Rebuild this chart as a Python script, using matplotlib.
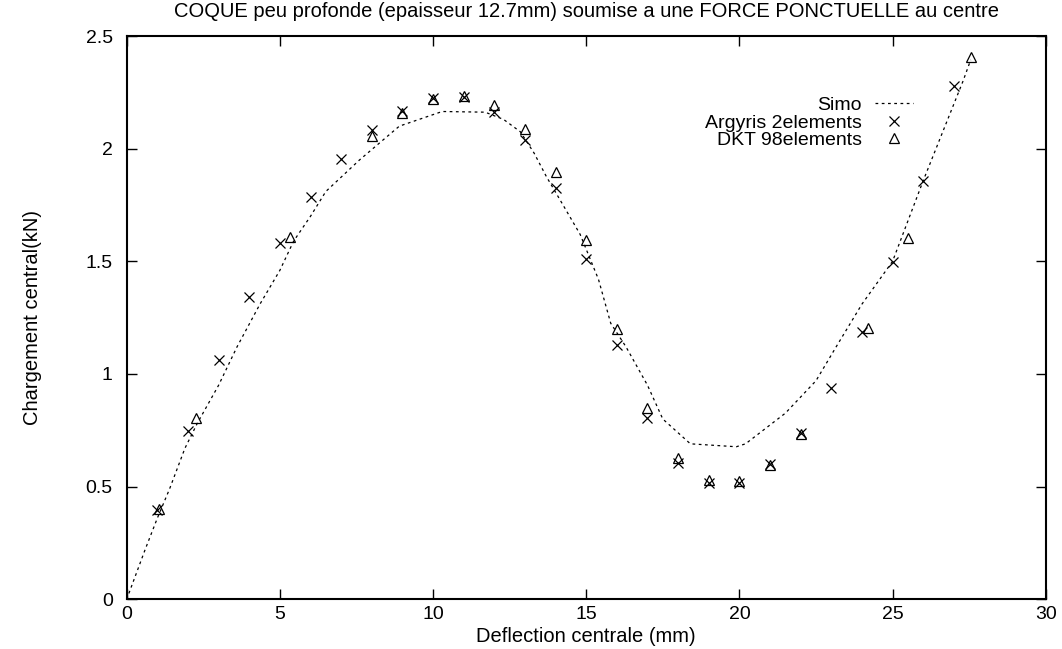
import matplotlib
matplotlib.use("Agg")
import matplotlib.pyplot as plt

plt.rcParams["font.family"] = ["Liberation Sans", "DejaVu Sans"]

# Simo reference curve (dotted line)
simo_x = [0.0, 0.6, 1.0, 1.4, 1.9, 2.3, 3.0, 3.6, 4.35, 5.0, 5.45, 6.0, 6.5,
          7.6, 8.9, 10.3, 11.7, 12.3, 12.85, 13.3, 13.7, 14.2, 14.8, 15.4,
          15.8, 16.3, 17.0, 17.5, 18.4, 19.9, 20.2, 21.5, 22.5, 23.2, 24.0,
          25.0, 26.0, 27.3, 27.55]
simo_y = [0.0, 0.22, 0.36, 0.49, 0.67, 0.78, 0.95, 1.12, 1.31, 1.46, 1.59,
          1.70, 1.81, 1.95, 2.10, 2.165, 2.162, 2.13, 2.075, 1.98, 1.876,
          1.76, 1.62, 1.42, 1.225, 1.12, 0.95, 0.80, 0.69, 0.677, 0.69,
          0.826, 0.97, 1.13, 1.31, 1.50, 1.858, 2.30, 2.394]

# Argyris, 2 elements (crosses)
arg_x = [1, 2, 3, 4, 5, 6, 7, 8, 9, 10, 11, 12, 13, 14, 15, 16, 17, 18, 19,
         20, 21, 22, 23, 24, 25, 26, 27]
arg_y = [0.397, 0.748, 1.06, 1.34, 1.580, 1.784, 1.953, 2.083, 2.169, 2.224,
         2.228, 2.164, 2.037, 1.824, 1.51, 1.129, 0.803, 0.604, 0.515, 0.518,
         0.599, 0.737, 0.937, 1.188, 1.498, 1.858, 2.278]

# DKT, 98 elements (triangles)
dkt_x = [1.05, 2.26, 5.33, 8.0, 9.0, 10.0, 11.0, 12.0, 13.0, 14.0, 15.0,
         16.0, 17.0, 18.0, 19.0, 20.0, 21.0, 22.0, 24.2, 25.5, 27.55]
dkt_y = [0.40, 0.806, 1.607, 2.056, 2.157, 2.22, 2.234, 2.194, 2.086, 1.897,
         1.595, 1.198, 0.848, 0.626, 0.530, 0.525, 0.597, 0.735, 1.203, 1.605,
         2.406]

fig = plt.figure(figsize=(10.62, 6.49), dpi=100)
ax = fig.add_axes([0.1193, 0.0766, 0.8654, 0.8679])

ax.plot(simo_x, simo_y, color="black", lw=0.9, ls=(0, (2.2, 2.8)),
        label="Simo")
ax.plot(arg_x, arg_y, ls="none", marker="x", ms=7.5, mew=0.9, color="black",
        label="Argyris 2elements")
ax.plot(dkt_x, dkt_y, ls="none", marker="^", ms=6.5, mew=0.9,
        markerfacecolor="none", markeredgecolor="black",
        label="DKT 98elements")

ax.set_xlim(0, 30)
ax.set_ylim(0, 2.5)
ax.set_xticks([0, 5, 10, 15, 20, 25, 30])
ax.set_yticks([0, 0.5, 1, 1.5, 2, 2.5])
ax.set_yticklabels(["0", "0.5", "1", "1.5", "2", "2.5"])
ax.tick_params(direction="in", length=7, width=1, top=True, right=True,
               labelsize=14)
ax.tick_params(axis="x", pad=5)
ax.tick_params(axis="y", pad=10)
for s in ax.spines.values():
    s.set_linewidth(1.5)

ax.set_title("COQUE peu profonde (epaisseur 12.7mm) soumise a une FORCE "
             "PONCTUELLE au centre", fontsize=14.5, pad=14)
ax.set_xlabel("Deflection centrale (mm)", fontsize=14.5)
ax.xaxis.set_label_coords(0.5, -0.049)
ax.set_ylabel("Chargement central(kN)", fontsize=14.5)
ax.yaxis.set_label_coords(-0.092, 0.5)

ax.legend(loc="upper right", bbox_to_anchor=(0.8557, 0.893), frameon=False,
          markerfirst=False, fontsize=14, handlelength=1.96,
          labelspacing=0.0, handletextpad=0.67, borderpad=0,
          borderaxespad=0)

fig.savefig("out.png", dpi=100)
